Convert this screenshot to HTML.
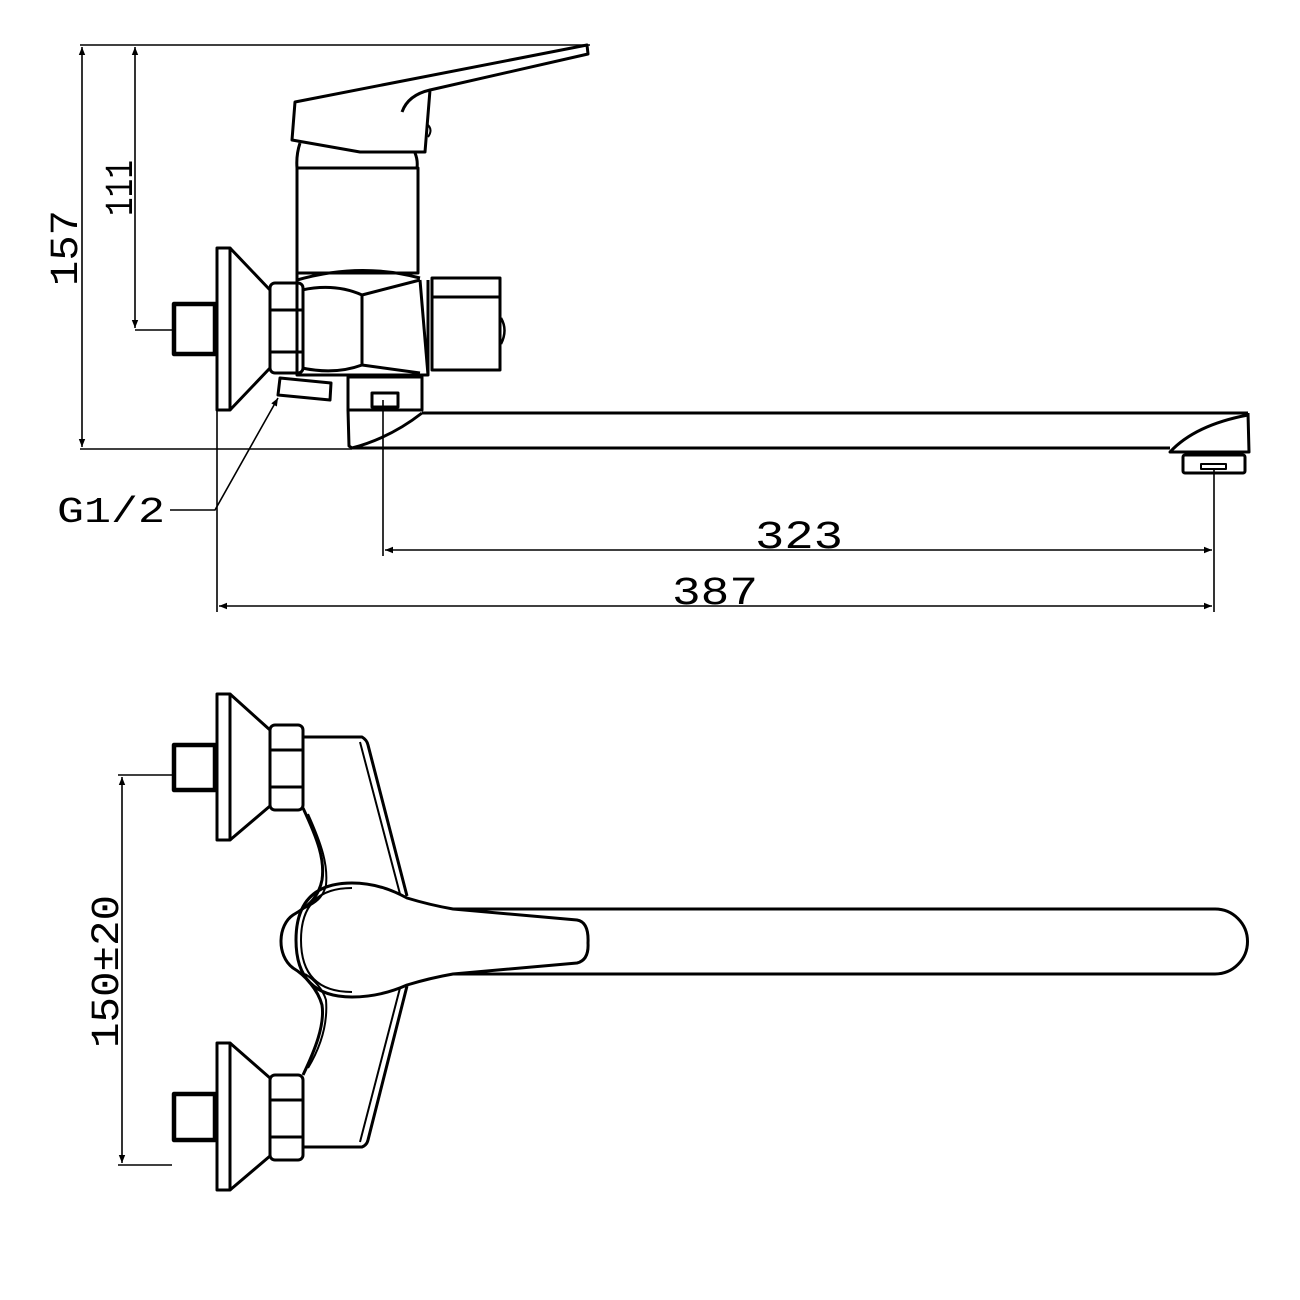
<!DOCTYPE html>
<html><head><style>body{margin:0;background:#fff}svg{display:block}</style></head>
<body>
<svg width="1300" height="1300" viewBox="0 0 1300 1300" xmlns="http://www.w3.org/2000/svg">
<defs>
<marker id="a" viewBox="0 0 10 10" refX="10" refY="5" markerWidth="16" markerHeight="8" markerUnits="userSpaceOnUse" orient="auto-start-reverse"><path d="M0,1 L10,5 L0,9 z" fill="#000"/></marker>
</defs>
<g fill="none" stroke="#000" stroke-width="1.6">
<line x1="80" y1="45" x2="590" y2="45"/>
<line x1="80" y1="449" x2="352" y2="449"/>
<line x1="82" y1="47" x2="82" y2="447" marker-start="url(#a)" marker-end="url(#a)"/>
<line x1="135" y1="47" x2="135" y2="328" marker-start="url(#a)" marker-end="url(#a)"/>
<line x1="135" y1="330" x2="172" y2="330"/>
<line x1="383" y1="400" x2="383" y2="556"/>
<line x1="217" y1="410" x2="217" y2="612"/>
<line x1="1214" y1="470" x2="1214" y2="612"/>
<line x1="385" y1="550" x2="1212" y2="550" marker-start="url(#a)" marker-end="url(#a)"/>
<line x1="219" y1="606" x2="1212" y2="606" marker-start="url(#a)" marker-end="url(#a)"/>
<polyline points="170,510 215,510 278,398" marker-end="url(#a)"/>
<line x1="118" y1="775" x2="172" y2="775"/>
<line x1="118" y1="1165" x2="172" y2="1165"/>
<line x1="122" y1="777" x2="122" y2="1163" marker-start="url(#a)" marker-end="url(#a)"/>
</g>
<g fill="none" stroke="#000" stroke-width="3" stroke-linejoin="round">
<polygon points="295,102 587,45 588,54 430,90 425,152 360,152 292,140"/>
<path d="M402,112 Q408,95 430,90"/>
<path d="M428,125 q5,5 0,12" stroke-width="2"/>
<path d="M300,143 Q296,155 297,168 M415,153 Q418,160 417,168"/>
<rect x="297" y="168" width="121" height="105"/>
<path d="M297,280 Q360,262 420,278"/>
<path d="M297,273 L297,375 L428,375 L428,280"/>
<path d="M302,290 Q335,283 362,295 L362,365 Q335,375 302,368"/>
<path d="M362,295 L420,280 M362,365 L420,373"/>
<path d="M420,280 L428,375"/>
<rect x="432" y="278" width="68" height="92"/>
<line x1="432" y1="297" x2="500" y2="297"/>
<path d="M501,318 q7,12 0,26" stroke-width="2.5"/>
<rect x="270" y="283" width="33" height="90" rx="5"/>
<line x1="270" y1="310" x2="303" y2="310"/><line x1="270" y1="352" x2="303" y2="352"/>
<rect x="217" y="248" width="13" height="162"/>
<path d="M230,248 L270,290 M230,410 L270,368"/>
<rect x="174" y="304" width="41" height="50" stroke-width="4.5"/>
<polygon points="280,378 331,383 330,400 278,395"/>
<path d="M348,377 L422,377 L422,410 L348,410 Z"/>
<rect x="372" y="393" width="26" height="14"/>
<path d="M348,410 L349,446 L352,448 Q390,438 422,413"/>
<line x1="422" y1="413" x2="1248" y2="413"/>
<line x1="352" y1="448" x2="1170" y2="448"/>
<path d="M1248,413 L1249,452 L1170,452 Q1195,425 1248,415"/>
<rect x="1183" y="455" width="62" height="18" rx="2"/>
<rect x="1201" y="464" width="25" height="5" stroke-width="2"/>

<rect x="217" y="694" width="13" height="146"/>
<path d="M230,694 L270,730 M230,840 L270,806"/>
<rect x="174" y="745" width="41" height="45" stroke-width="4.5"/>
<rect x="270" y="725" width="33" height="85" rx="5"/>
<line x1="270" y1="750" x2="303" y2="750"/><line x1="270" y1="787" x2="303" y2="787"/>
<rect x="217" y="1043" width="13" height="147"/>
<path d="M230,1043 L270,1078 M230,1190 L270,1156"/>
<rect x="174" y="1094" width="41" height="46" stroke-width="4.5"/>
<rect x="270" y="1075" width="33" height="85" rx="5"/>
<line x1="270" y1="1100" x2="303" y2="1100"/><line x1="270" y1="1137" x2="303" y2="1137"/>
<path d="M303,737 L362,737 Q367,740 368,745 L407,896"/>
<path d="M360,742 L400,894" stroke-width="2"/>
<path d="M303,1147 L362,1147 Q367,1145 368,1140 L407,986"/>
<path d="M360,1142 L400,988" stroke-width="2"/>
<path d="M303,808 C318,840 325,860 322,880 C318,900 305,908 293,915 C278,925 276,955 293,968 C305,975 318,990 322,1005 C325,1025 315,1050 303,1075"/>
<path d="M308,814 C322,845 328,865 326,885 C323,898 315,903 305,908" stroke-width="2"/>
<path d="M305,974 C315,980 323,990 326,1000 C328,1025 320,1048 308,1068" stroke-width="2"/>
<path d="M407,898 Q380,883 352,883 Q296,883 296,940 Q296,997 352,997 Q380,997 407,985 Q430,978 453,974 L577,963 Q589,960 588,943 Q589,922 577,920 L453,909 Q430,905 407,898 Z"/>
<path d="M352,888 Q301,888 301,940 Q301,992 352,992" stroke-width="2"/>
<path d="M453,909 L1215,909 A32.5,32.5 0 0 1 1215,974 L453,974"/>
</g>
<g font-family="Liberation Mono, DejaVu Sans Mono, monospace" font-size="40" fill="#000">
<text x="755" y="548" textLength="88" lengthAdjust="spacingAndGlyphs">323</text>
<text x="672" y="604" textLength="86" lengthAdjust="spacingAndGlyphs">387</text>
<text x="57" y="522" font-size="36" textLength="108" lengthAdjust="spacingAndGlyphs">G1/2</text>
<text transform="translate(77,286) rotate(-90)" textLength="76" lengthAdjust="spacingAndGlyphs">157</text>
<text transform="translate(132,216) rotate(-90)" textLength="56" lengthAdjust="spacingAndGlyphs">111</text>
<text transform="translate(118,1048) rotate(-90)" textLength="153" lengthAdjust="spacingAndGlyphs">150±20</text>
</g>
</svg>
</body></html>
